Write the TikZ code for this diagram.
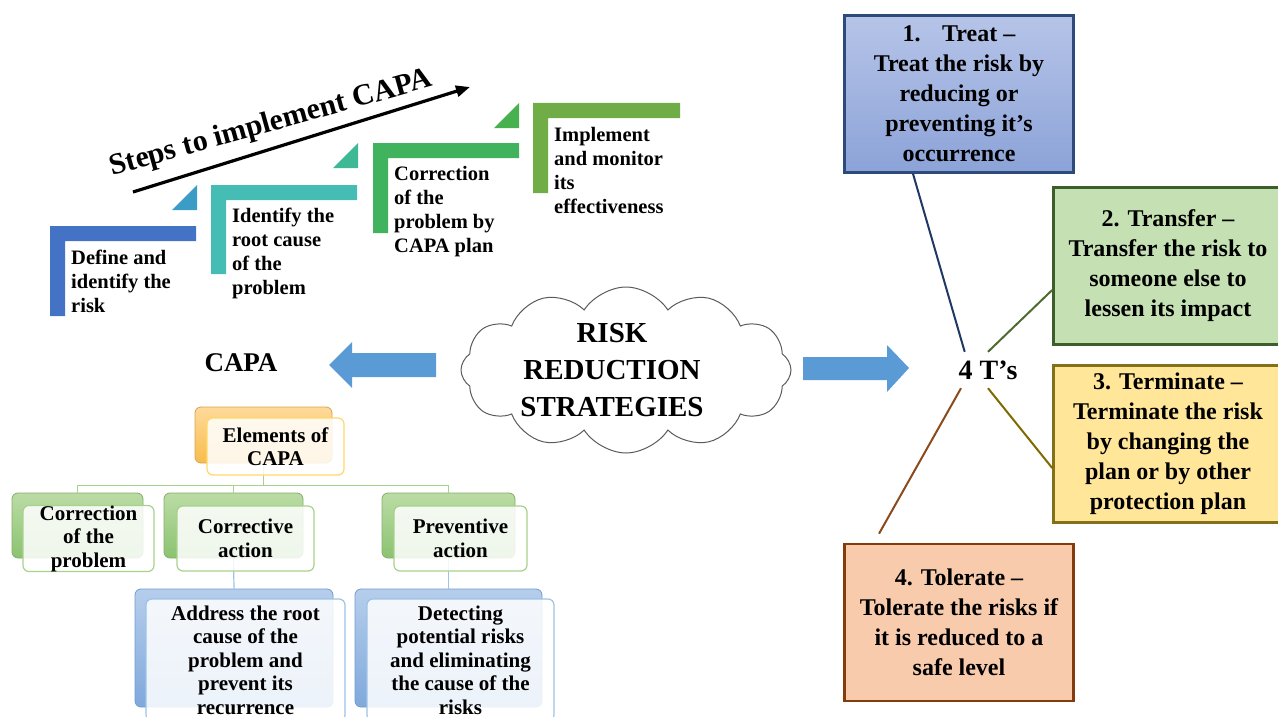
\documentclass[tikz,border=0pt]{standalone}
\usepackage{fontspec}
\setmainfont{Liberation Serif}
\usepackage{tikz}
\usetikzlibrary{arrows.meta,positioning,calc,shapes.symbols}

\definecolor{stepblue}{HTML}{4472C4}
\definecolor{stepteal}{HTML}{45BDB4}
\definecolor{stepgreen}{HTML}{41B35F}
\definecolor{steplime}{HTML}{70AD47}
\definecolor{tribluea}{HTML}{3B9CC6}
\definecolor{triteal}{HTML}{3FB896}
\definecolor{trigreen}{HTML}{48B14F}
\definecolor{bigarrow}{HTML}{5B9BD5}
\definecolor{cloudgray}{HTML}{5A5A5A}
\definecolor{treattop}{HTML}{B6C4E8}
\definecolor{treatbot}{HTML}{8CA3D8}
\definecolor{treatedge}{HTML}{2E4A7A}
\definecolor{treatline}{HTML}{203864}
\definecolor{transfill}{HTML}{C5E0B3}
\definecolor{transedge}{HTML}{3B5E2B}
\definecolor{transline}{HTML}{4E6B30}
\definecolor{termfill}{HTML}{FFE699}
\definecolor{termedge}{HTML}{85701A}
\definecolor{termline}{HTML}{7F6A00}
\definecolor{tolfill}{HTML}{F8CBAD}
\definecolor{toledge}{HTML}{843C0C}
\definecolor{tolline}{HTML}{8B4A1C}
\definecolor{orgtop}{HTML}{FFDA9A}
\definecolor{orgbot}{HTML}{F7BC4C}
\definecolor{orgedge}{HTML}{D6A350}
\definecolor{orgfront}{HTML}{FFD966}
\definecolor{grntop}{HTML}{BBDCA5}
\definecolor{grnbot}{HTML}{8BC370}
\definecolor{grnedge}{HTML}{84AE69}
\definecolor{grnfront}{HTML}{A9D18E}
\definecolor{blutop}{HTML}{B6CEEC}
\definecolor{blubot}{HTML}{7FA8DC}
\definecolor{bluedge}{HTML}{6F9BD0}
\definecolor{blufront}{HTML}{9DC3E6}

\begin{document}
\begin{tikzpicture}[x=1pt, y=-1pt,
      steptxt/.style={anchor=west, align=left, inner sep=0pt, font=\fontsize{20.5}{24}\selectfont\bfseries},
      tbox/.style={line width=2.6pt, minimum width=229pt, minimum height=157pt, inner sep=0pt, align=center,
                   font=\fontsize{24}{30}\selectfont\bfseries},
      backbox/.style={rounded corners=6pt, line width=0.8pt, inner sep=0pt},
      frontbox/.style={fill=white, fill opacity=0.86, text opacity=1, rounded corners=6pt, line width=1.2pt,
                       inner sep=0pt, align=center, font=\fontsize{21}{23.5}\selectfont\bfseries},
      treeln/.style={line width=1.2pt},
      tline/.style={line width=2pt}]

    \useasboundingbox (0,0) rectangle (1278,717);

    \fill[stepblue]  (50,316)  -- (50,226)  -- (196,226) -- (196,241) -- (65,241)  -- (65,316)  -- cycle;
    \fill[stepteal]  (211,274) -- (211,185) -- (357,185) -- (357,200) -- (226,200) -- (226,274) -- cycle;
    \fill[stepgreen] (373,233) -- (373,143) -- (519,143) -- (519,158) -- (388,158) -- (388,233) -- cycle;
    \fill[steplime]  (533,193) -- (533,103) -- (680,103) -- (680,118) -- (548,118) -- (548,193) -- cycle;
    \fill[tribluea] (172,210) -- (197,185) -- (197,210) -- cycle;
    \fill[triteal]  (333,168) -- (358,143) -- (358,168) -- cycle;
    \fill[trigreen] (494,128) -- (519,103) -- (519,128) -- cycle;

    \node[steptxt] (define)    at (71,281)  {Define and\\identify the\\risk};
    \node[steptxt] (identify)  at (232,253) {Identify the\\root cause\\of the\\problem};
    \node[steptxt] (correct)   at (394,212) {Correction\\of the\\problem by\\CAPA plan};
    \node[steptxt] (implement) at (554,170) {Implement\\and monitor\\its\\effectiveness};

    \node[font=\fontsize{30}{34}\selectfont\bfseries, rotate=15.6, anchor=base] (stepsTitle) at (273,131) {Steps to implement CAPA};
    \coordinate (stepsA) at (133,192);
    \coordinate (stepsB) at (470,87);
    \draw[line width=3.2pt, -{Triangle[length=14pt,width=11pt]}] (stepsA) -- (stepsB);

    \node[font=\fontsize{27}{30}\selectfont\bfseries] (capa) at (241,363) {CAPA};
    \fill[bigarrow] (329,365) -- (352,342) -- (352,353) -- (436,353) -- (436,377) -- (352,377) -- (352,388) -- cycle;
    \fill[bigarrow] (909,368) -- (887,345) -- (887,357) -- (803,357) -- (803,380) -- (887,380) -- (887,392) -- cycle;

    \node[cloud, draw=cloudgray, line width=1pt, cloud puffs=12, cloud puff arc=115, cloud ignores aspect,
          minimum width=330pt, minimum height=166pt] (risk) at (626,370) {};
    \node[align=center, font=\fontsize{29}{37}\selectfont\bfseries] (riskTxt) at (612,370) {RISK\\REDUCTION\\STRATEGIES};

    \node[font=\fontsize{28}{30}\selectfont\bfseries, minimum width=64pt, minimum height=36pt, inner sep=0pt] (fourT) at (988,370) {4 T’s};

    \node[tbox, draw=treatedge, top color=treattop, bottom color=treatbot] (treat) at (959,94)
         {1.\hspace{0.9em}Treat –\\Treat the risk by\\reducing or\\preventing it’s\\occurrence};
    \node[tbox, draw=transedge, fill=transfill] (transfer) at (1168,266)
         {2. Transfer –\\Transfer the risk to\\someone else to\\lessen its impact};
    \node[tbox, draw=termedge, fill=termfill] (terminate) at (1168,444)
         {3. Terminate –\\Terminate the risk\\by changing the\\plan or by other\\protection plan};
    \node[tbox, draw=toledge, fill=tolfill] (tolerate) at (959,622.5)
         {4. Tolerate –\\Tolerate the risks if\\it is reduced to a\\safe level};

    \draw[tline, treatline] ([xshift=-46pt]treat.south) -- (fourT.142);
    \draw[tline, transline] ([yshift=-24pt]transfer.west) -- (fourT.north);
    \draw[tline, termline]  ([yshift=-24pt]terminate.west) -- (fourT.south);
    \draw[tline, tolline]   ([xshift=-80pt,yshift=9pt]tolerate.north) -- (fourT.214);

    \node[backbox, draw=orgedge, top color=orgtop, bottom color=orgbot, minimum width=137pt, minimum height=56pt] (elemBack) at (263.5,435) {};
    \node[backbox, draw=grnedge, top color=grntop, bottom color=grnbot, minimum width=131pt, minimum height=65pt] (fixBack) at (77.5,525.5) {};
    \node[backbox, draw=grnedge, top color=grntop, bottom color=grnbot, minimum width=139pt, minimum height=65pt] (caBack) at (233.5,525.5) {};
    \node[backbox, draw=grnedge, top color=grntop, bottom color=grnbot, minimum width=133pt, minimum height=65pt] (paBack) at (448.5,525.5) {};
    \node[backbox, draw=bluedge, top color=blutop, bottom color=blubot, minimum width=198pt, minimum height=118pt] (addrBack) at (234,648) {};
    \node[backbox, draw=bluedge, top color=blutop, bottom color=blubot, minimum width=187pt, minimum height=118pt] (detBack) at (448.5,648) {};

    \draw[treeln, grnfront] (elemBack.south) -- ++(0,22) coordinate (hub);
    \draw[treeln, grnfront] (hub) -| (fixBack.north);
    \draw[treeln, grnfront] (hub) -| (caBack.north);
    \draw[treeln, grnfront] (hub) -| (paBack.north);
    \draw[treeln, blufront] (caBack.south) -- (addrBack.north);
    \draw[treeln, blufront] (paBack.south) -- (detBack.north);

    \node[frontbox, draw=orgfront, minimum width=137pt, minimum height=57pt] (elem) at (275.5,446.5) {Elements of\\CAPA};
    \node[frontbox, draw=grnfront, minimum width=131pt, minimum height=65pt] (fix) at (88.5,538.5) {Correction\\of the\\problem};
    \node[frontbox, draw=grnfront, minimum width=137pt, minimum height=65pt] (ca) at (245.5,538.5) {Corrective\\action};
    \node[frontbox, draw=grnfront, minimum width=133pt, minimum height=65pt] (pa) at (460.5,538.5) {Preventive\\action};
    \node[frontbox, draw=blufront, minimum width=199pt, minimum height=122pt] (addr) at (245.5,660) {Address the root\\cause of the\\problem and\\prevent its\\recurrence};
    \node[frontbox, draw=blufront, minimum width=187pt, minimum height=122pt] (det) at (460.5,660) {Detecting\\potential risks\\and eliminating\\the cause of the\\risks};
  \end{tikzpicture}
\end{document}
